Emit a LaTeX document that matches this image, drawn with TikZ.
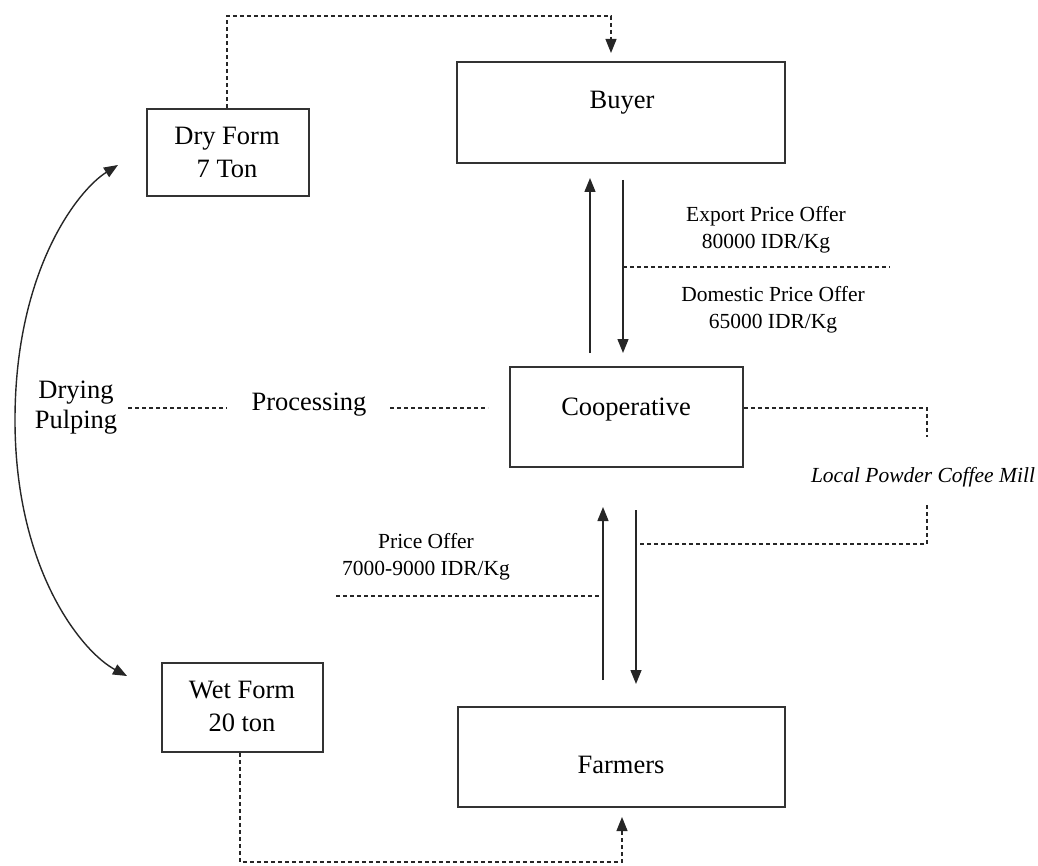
\documentclass[tikz,border=0pt]{standalone}
\usepackage{fontspec}
\setmainfont{Liberation Serif}
\usetikzlibrary{arrows.meta}
\begin{document}
\begin{tikzpicture}[x=1pt,y=-1pt,
  box/.style={draw=black!80, line width=1.6pt, inner sep=0pt, align=center},
  big/.style={font=\fontsize{26.5}{33}\selectfont, align=center, inner sep=0pt},
  lbl/.style={font=\fontsize{21.5}{26.5}\selectfont, align=center, inner sep=0pt},
  dsh/.style={line width=1.2pt, dash pattern=on 4pt off 3pt, black!85},
  tip/.style={-{Triangle[length=14pt,width=11pt]}},
  arr/.style={line width=1.4pt, black!85, tip},
  darr/.style={dsh, tip}]
\useasboundingbox (0,0) rectangle (1038,866);
% boxes
\node[box, minimum width=162pt, minimum height=87pt] (dry) at (228,152.5) {};
\node[big] (drylbl) at (227,152.5) {Dry Form\\7 Ton};
\node[box, minimum width=328pt, minimum height=101pt] (buyer) at (621,112.5) {};
\node[big] (buyerlbl) at (622,103) {Buyer};
\node[box, minimum width=233pt, minimum height=100pt] (coop) at (626.5,417) {};
\node[big] (cooplbl) at (626,410) {Cooperative};
\node[box, minimum width=327pt, minimum height=100pt] (farm) at (621.5,757) {};
\node[big] (farmlbl) at (621,765) {Farmers};
\node[box, minimum width=161pt, minimum height=89pt] (wet) at (242.5,707.5) {};
\node[big] (wetlbl) at (242,706.5) {Wet Form\\20 ton};
% labels
\node[lbl] (exp) at (766,230) {Export Price Offer\\80000 IDR/Kg};
\node[lbl] (dom) at (773,310) {Domestic Price Offer\\65000 IDR/Kg};
\node[lbl] (po) at (426,556.5) {Price Offer\\7000-9000 IDR/Kg};
\node[big] (proc) at (309,405) {Processing};
\node[big, font=\fontsize{26.5}{30}\selectfont] (dp) at (76,408) {Drying\\Pulping};
\node[font=\fontsize{21.5}{26}\selectfont\itshape, inner sep=0pt] (mill) at (923,477) {Local Powder Coffee Mill};
% top dashed connector
\coordinate (t1) at (227,16);
\coordinate (t2) at (611,16);
\coordinate (t3) at (611,53);
\draw[darr] (dry.north -| t1) -- (t1) -- (t2) -- (t3);
% bottom dashed connector
\coordinate (b1) at (240,862);
\coordinate (b2) at (622,862);
\coordinate (b3) at (622,817);
\draw[darr] (wet.south -| b1) -- (b1) -- (b2) -- (b3);
% buyer/cooperative arrows
\coordinate (u1) at (590,353);
\coordinate (u2) at (590,178);
\coordinate (d1) at (623,180);
\coordinate (d2) at (623,353);
\draw[arr] (u1) -- (u2);
\draw[arr] (d1) -- (d2);
\coordinate (e2) at (890,267);
\draw[dsh] (e2 -| d1) -- (e2);
% cooperative/farmers arrows
\coordinate (f1) at (603,680);
\coordinate (f2) at (603,507);
\coordinate (g1) at (636,510);
\coordinate (g2) at (636,684);
\draw[arr] (f1) -- (f2);
\draw[arr] (g1) -- (g2);
\coordinate (p1) at (336,596);
\draw[dsh] (p1) -- (p1 -| f1);
% processing line
\coordinate (q1) at (128,408);
\coordinate (q2) at (227,408);
\coordinate (q3) at (390,408);
\coordinate (q4) at (488,408);
\draw[dsh] (q1) -- (q2);
\draw[dsh] (q3) -- (q4);
% local powder mill
\coordinate (m1) at (927,408);
\coordinate (m2) at (927,437);
\coordinate (m3) at (927,505);
\coordinate (m4) at (927,544);
\draw[dsh] (coop.east |- m1) -- (m1) -- (m2);
\draw[dsh] (m3) -- (m4) -- (m4 -| g1);
% curved arrow
\coordinate (c1) at (118,165);
\coordinate (c0) at (15,420);
\coordinate (c2) at (127,676);
\draw[line width=1.4pt, black!85, {Triangle[length=14pt,width=11pt]}-{Triangle[length=14pt,width=11pt]}]
  (c1) .. controls (78,190) and (15,270) .. (c0) .. controls (15,570) and (82,652) .. (c2);
\end{tikzpicture}
\end{document}
